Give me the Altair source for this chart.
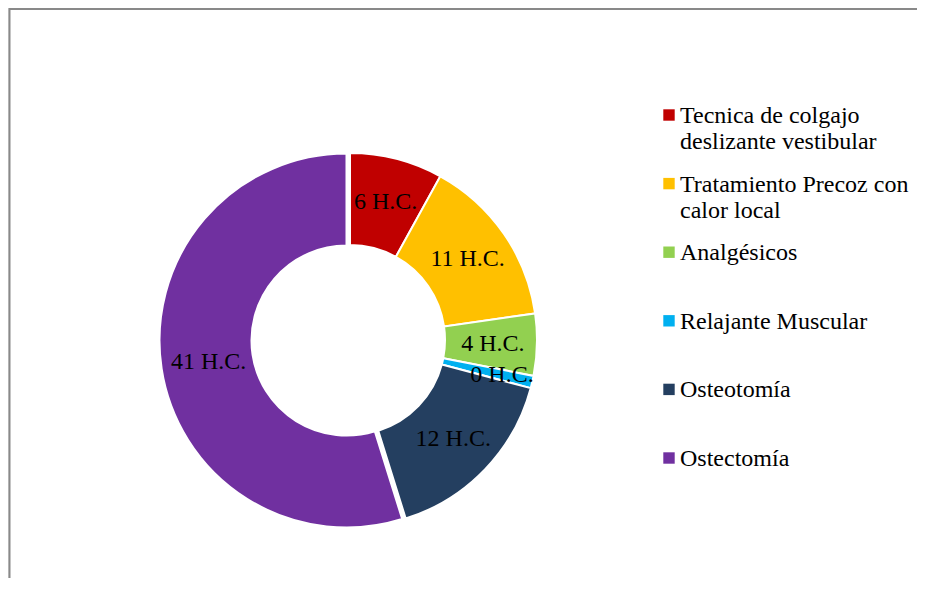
import altair as alt
import pandas as pd

categories = [
    "Tecnica de colgajo deslizante vestibular",
    "Tratamiento Precoz con calor local",
    "Analgésicos",
    "Relajante Muscular",
    "Osteotomía",
    "Ostectomía",
]
legend_labels = [
    "Tecnica de colgajo\ndeslizante vestibular",
    "Tratamiento Precoz con\ncalor local",
    "Analgésicos",
    "Relajante Muscular",
    "Osteotomía",
    "Ostectomía",
]
values = [6, 11, 4, 0.8, 12, 41]
shown = [6, 11, 4, 0, 12, 41]
colors = ["#C00000", "#FFC000", "#92D050", "#00B0F0", "#243F60", "#7030A0"]

df = pd.DataFrame({
    "idx": list(range(len(categories))),
    "cat": categories,
    "value": values,
    "shown": shown,
    "legend": legend_labels,
})

FONT = "Liberation Serif"
CX, CY = 342, 332

color_enc = alt.Color("cat:N", scale=alt.Scale(domain=categories, range=colors), legend=None)
theta_enc = alt.Theta("value:Q", stack=True)
order_enc = alt.Order("idx:Q")

base = alt.Chart(df)

arcs_main = base.mark_arc(innerRadius=95, outerRadius=187, stroke="white", strokeWidth=2).encode(
    theta=theta_enc, order=order_enc, color=color_enc,
    x=alt.value(CX), y=alt.value(CY),
    opacity=alt.condition("datum.cat === 'Ostectomía'", alt.value(0), alt.value(1)),
)
arcs_expl = base.mark_arc(innerRadius=95, outerRadius=187, stroke="white", strokeWidth=2).encode(
    theta=theta_enc, order=order_enc, color=color_enc,
    x=alt.value(CX - 3.5), y=alt.value(CY + 0.5),
    opacity=alt.condition("datum.cat === 'Ostectomía'", alt.value(1), alt.value(0)),
)

lab_base = base.transform_calculate(label="datum.shown + ' H.C.'")
labels = lab_base.mark_text(font=FONT, fontSize=24, color="black", baseline="middle",
                            align="center", radius=143).encode(
    theta=theta_enc, order=order_enc,
    x=alt.value(CX), y=alt.value(CY),
    text="label:N",
    opacity=alt.condition("datum.cat === 'Relajante Muscular'", alt.value(0), alt.value(1)),
)
labels_small = lab_base.mark_text(font=FONT, fontSize=24, color="black", baseline="middle",
                                  align="center", radius=156).encode(
    theta=theta_enc, order=order_enc,
    x=alt.value(CX), y=alt.value(CY),
    text="label:N",
    opacity=alt.condition("datum.cat === 'Relajante Muscular'", alt.value(1), alt.value(0)),
)

yscale = alt.Scale(domain=[0, 5], range=[107, 450])

leg_sq = base.mark_square(size=130, opacity=1).encode(
    x=alt.value(661),
    y=alt.Y("idx:Q", scale=yscale, axis=None),
    color=color_enc,
)
leg_tx = base.mark_text(font=FONT, fontSize=24, color="black", align="left",
                        baseline="alphabetic", dy=8, lineBreak="\n", lineHeight=26).encode(
    x=alt.value(672),
    y=alt.Y("idx:Q", scale=yscale, axis=None),
    text="legend:N",
)

one = alt.Data(values=[{"a": 1}])
top_line = alt.Chart(one).mark_rule(color="#898989", strokeWidth=2).encode(
    x=alt.value(1), x2=alt.value(909), y=alt.value(1)
)
left_line = alt.Chart(one).mark_rule(color="#898989", strokeWidth=2).encode(
    x=alt.value(1.5), y=alt.value(0), y2=alt.value(570)
)

chart = alt.layer(top_line, left_line, arcs_main, arcs_expl, labels, labels_small, leg_sq, leg_tx).properties(
    width=909, height=570, autosize=alt.AutoSizeParams(type="none"), padding=0,
).configure_view(strokeWidth=0).configure(background="white")

chart.save("out.html", embed_options={"renderer": "svg", "actions": False})
